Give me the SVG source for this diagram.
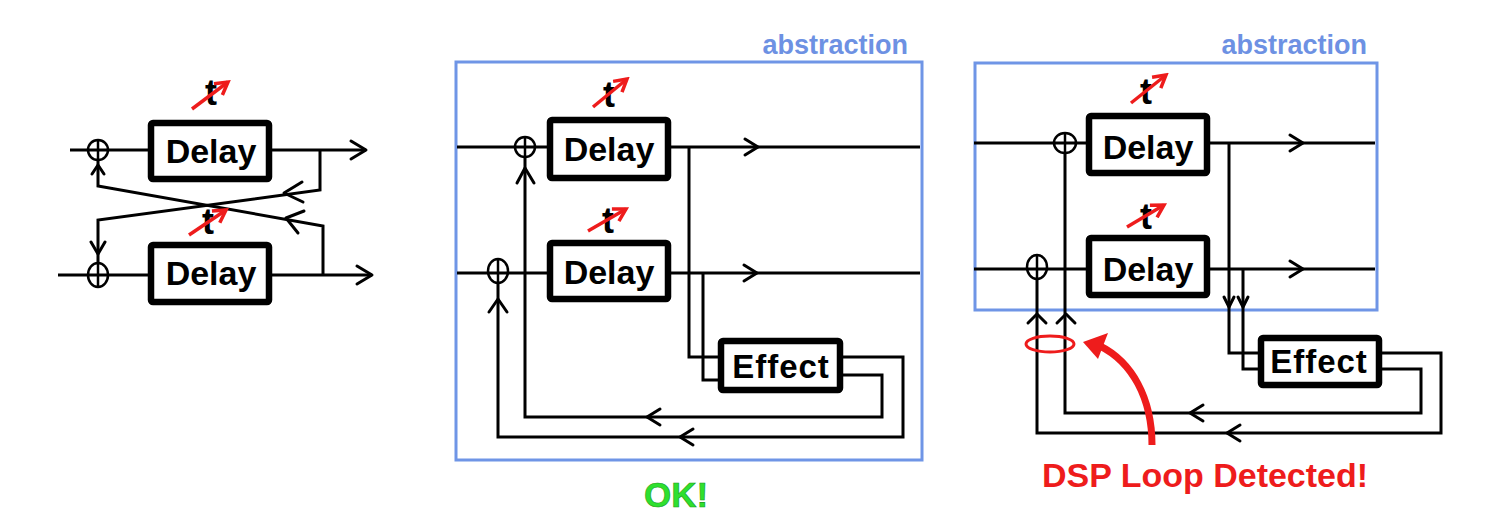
<svg xmlns="http://www.w3.org/2000/svg" width="1490" height="517" viewBox="0 0 1490 517">
<defs>
<marker id="redhead" viewBox="0 0 10 10" refX="8" refY="5" markerWidth="5" markerHeight="5" orient="auto" markerUnits="strokeWidth">
<path d="M1,1 L8,5 L1,9" fill="none" stroke="#ee1c1c" stroke-width="2"/>
</marker>
</defs>
<style>
.ln{fill:none;stroke:#000;stroke-width:3;stroke-linejoin:miter}
.ar{fill:none;stroke:#000;stroke-width:3;stroke-linecap:round;stroke-linejoin:round}
.box{fill:#fff;stroke:#000;stroke-width:6.5;rx:2}
.sum{fill:none;stroke:#000;stroke-width:2.5}
.lbl{font-family:"Liberation Sans",Arial,sans-serif;font-weight:bold;fill:#000;text-anchor:middle}
.dl{font-size:34px}
.ef{font-size:33px;letter-spacing:1px}
.tt{font-size:36px}
.tar{fill:none;stroke:#ee1c1c;stroke-width:3.5;marker-end:url(#redhead)}
.abs{fill:none;stroke:#6f95e6;stroke-width:3}
.abt{font-family:"Liberation Sans",Arial,sans-serif;font-weight:bold;font-size:27px;fill:#6d91e3;text-anchor:end}
</style>
<rect width="1490" height="517" fill="#fff"/>

<!-- abstraction frames -->
<g id="frame-mid">
<rect class="abs" x="456" y="62" width="466" height="398"/>
<text class="abt" x="908" y="54">abstraction</text>
</g>
<g id="frame-right">
<rect class="abs" x="975" y="63" width="402" height="247"/>
<text class="abt" x="1367" y="54">abstraction</text>
</g>

<g id="connectors">
<!-- left -->
<path class="ln" d="M70,150 H150 M272,150 H366"/>
<path class="ar" d="M351,141 L366,150 L351,159"/>
<path class="ln" d="M58,275 H150 M272,275 H372"/>
<path class="ar" d="M357,266 L372,275 L357,284"/>
<path class="ln" d="M320,150 V190 L98,220 V263"/>
<path class="ar" d="M91,242 L98,254 L105,242"/>
<path class="ln" d="M323,275 V226 L98,186 V160"/>
<path class="ar" d="M92,174 L98,165 L104,174"/>
<path class="ar" d="M302,182 L284,193 L303,202"/>
<path class="ar" d="M304,211 L286,218 L298,233"/>
<!-- middle -->
<path class="ln" d="M457,147 H550 M670,147 H920"/>
<path class="ar" d="M745,139 L758,147 L745,155"/>
<path class="ln" d="M457,273 H550 M670,273 H920"/>
<path class="ar" d="M744,265 L757,273 L744,281"/>
<path class="ln" d="M525,157 V417 H882 V375 H843"/>
<path class="ar" d="M517,183 L525,168 L534,183"/>
<path class="ln" d="M498,283 V437 H903 V357 H843"/>
<path class="ar" d="M489,312 L498,299 L507,312"/>
<path class="ln" d="M689,147 V357 H721 M703,273 V380 H721"/>
<path class="ar" d="M660,409 L647,417 L660,425"/>
<path class="ar" d="M693,429 L680,437 L693,445"/>
<!-- right -->
<path class="ln" d="M974,143 H1089 M1210,143 H1375"/>
<path class="ar" d="M1290,135 L1303,143 L1290,151"/>
<path class="ln" d="M974,269 H1089 M1210,269 H1375"/>
<path class="ar" d="M1290,261 L1303,269 L1290,277"/>
<path class="ln" d="M1065,153 V413 H1421 V369 H1382"/>
<path class="ln" d="M1037,279 V433 H1441 V353 H1382"/>
<path class="ar" d="M1028,323 L1037,314 L1046,323"/>
<path class="ar" d="M1057,323 L1066,314 L1075,323"/>
<path class="ln" d="M1229,143 V353 H1261 M1243,269 V369 H1261"/>
<path class="ar" d="M1224,297 L1229,307 L1234,297"/>
<path class="ar" d="M1238,297 L1243,307 L1248,297"/>
<path class="ar" d="M1203,405 L1190,413 L1203,421"/>
<path class="ar" d="M1240,425 L1227,433 L1240,441"/>
</g>

<!-- left diagram nodes -->
<g id="sum-l1"><ellipse class="sum" cx="98" cy="150" rx="10" ry="10"/><path class="sum" d="M98,140 V160"/></g>
<g id="sum-l2"><ellipse class="sum" cx="98" cy="275" rx="10" ry="12"/><path class="sum" d="M98,263 V287"/></g>
<g id="delay-l1">
<rect class="box" x="151" y="123" width="118" height="56"/>
<text class="lbl dl" x="211" y="163">Delay</text>
<text class="lbl tt" x="211" y="105">t</text>
<path class="tar" d="M192,109 L228,82"/>
</g>
<g id="delay-l2">
<rect class="box" x="151" y="245" width="118" height="57"/>
<text class="lbl dl" x="211" y="285">Delay</text>
<text class="lbl tt" x="208" y="234">t</text>
<path class="tar" d="M189,235 L226,210"/>
</g>

<!-- middle diagram nodes -->
<g id="sum-m1"><ellipse class="sum" cx="525" cy="147" rx="10" ry="10"/><path class="sum" d="M525,137 V157"/></g>
<g id="sum-m2"><ellipse class="sum" cx="498" cy="271" rx="10" ry="12"/><path class="sum" d="M498,259 V283"/></g>
<g id="delay-m1">
<rect class="box" x="550" y="120" width="118" height="58"/>
<text class="lbl dl" x="609" y="161">Delay</text>
<text class="lbl tt" x="609" y="107">t</text>
<path class="tar" d="M593,107 L627,79"/>
</g>
<g id="delay-m2">
<rect class="box" x="550" y="243" width="118" height="56"/>
<text class="lbl dl" x="609" y="284">Delay</text>
<text class="lbl tt" x="608" y="233">t</text>
<path class="tar" d="M588,231 L626,209"/>
</g>
<g id="effect-m">
<rect class="box" x="721" y="341" width="119" height="49"/>
<text class="lbl ef" x="781" y="378">Effect</text>
</g>
<g id="ok-label">
<text x="676" y="507" font-family="'Liberation Sans',Arial,sans-serif" font-weight="bold" font-size="35" fill="#2ee02e" stroke="#1a9a1a" stroke-width="0.6" text-anchor="middle">OK!</text>
</g>

<!-- right diagram nodes -->
<g id="sum-r1"><ellipse class="sum" cx="1065" cy="143" rx="11" ry="10"/><path class="sum" d="M1065,133 V153"/></g>
<g id="sum-r2"><ellipse class="sum" cx="1037" cy="267" rx="10" ry="12"/><path class="sum" d="M1037,255 V279"/></g>
<g id="delay-r1">
<rect class="box" x="1089" y="116" width="118" height="57"/>
<text class="lbl dl" x="1148" y="159">Delay</text>
<text class="lbl tt" x="1146" y="104">t</text>
<path class="tar" d="M1131,103 L1166,75"/>
</g>
<g id="delay-r2">
<rect class="box" x="1089" y="238" width="118" height="57"/>
<text class="lbl dl" x="1148" y="281">Delay</text>
<text class="lbl tt" x="1146" y="229">t</text>
<path class="tar" d="M1127,227 L1164,205"/>
</g>
<g id="effect-r">
<rect class="box" x="1261" y="338" width="118" height="47"/>
<text class="lbl ef" x="1319" y="373">Effect</text>
</g>

<g id="loop-callout">
<ellipse cx="1050" cy="344" rx="24" ry="8" fill="none" stroke="#ee1c1c" stroke-width="3"/>
<path d="M1152,445 C1152,398 1132,362 1100,346" fill="none" stroke="#ee1c1c" stroke-width="7"/>
<polygon points="1083,342 1108,333 1098,359" fill="#ee1c1c"/>
<text x="1205" y="487" font-family="'Liberation Sans',Arial,sans-serif" font-weight="bold" font-size="34" fill="#ee1c1c" text-anchor="middle">DSP Loop Detected!</text>
</g>
</svg>
